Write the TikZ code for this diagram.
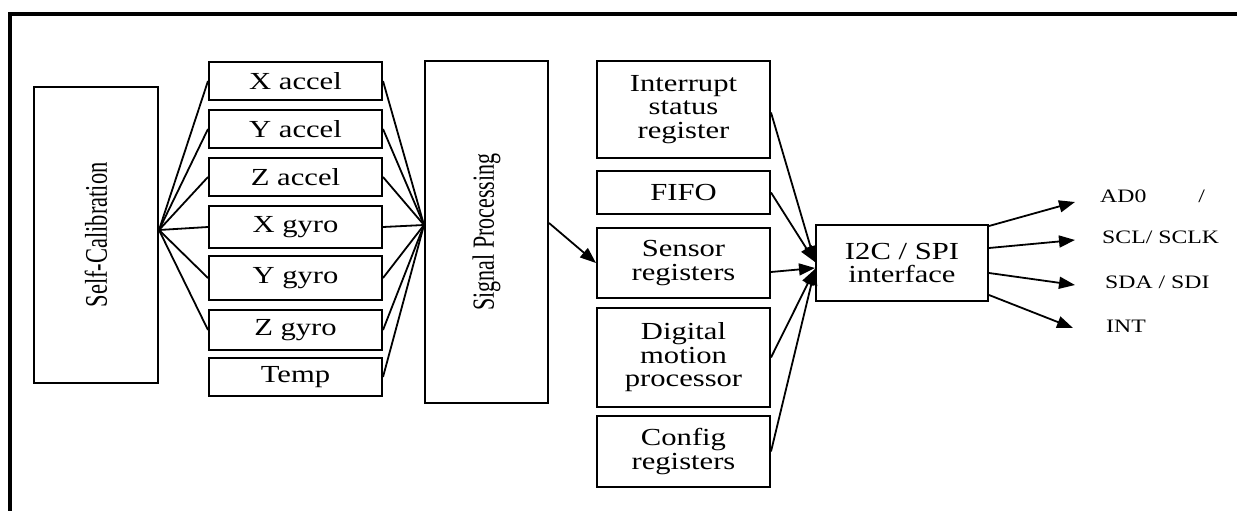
\documentclass[tikz,border=0pt]{standalone}
\usepackage{graphicx}
\usepackage{fontspec}
\setmainfont{Liberation Serif}[FakeStretch=1.25]
\newfontfamily\rotfont{Liberation Serif}
\usetikzlibrary{arrows.meta}
\begin{document}
\begin{tikzpicture}[x=1pt,y=-1pt,
  blk/.style={draw, line width=2pt, inner sep=0pt, align=center,
    font=\fontsize{24.5}{23.5}\selectfont},
  sens/.style={blk, minimum width=173pt},
  colbox/.style={blk, minimum width=173pt},
  lnk/.style={line width=1.8pt},
  arr/.style={line width=1.8pt, -{Triangle[length=16pt,width=12pt]}},
  lbl/.style={font=\fontsize{19}{19}\selectfont, inner sep=0pt, anchor=base west}]
\useasboundingbox (0,0) rectangle (1237,511);
% outer frame (only top and left edges visible)
\draw[line width=4pt] (10,530) -- (10,14) -- (1260,14);

% Self-Calibration
\node[blk, minimum width=124pt, minimum height=296pt] (sc) at (96,235)
  {\rotatebox{90}{\scalebox{1}[1.4]{\rotfont\fontsize{22.5}{22.5}\selectfont Self-Calibration}}};

% sensors
\node[sens, minimum height=38pt] (xa) at (295.5,81) {X accel};
\node[sens, minimum height=38pt] (ya) at (295.5,129) {Y accel};
\node[sens, minimum height=38pt] (za) at (295.5,177) {Z accel};
\node[sens, minimum height=42pt] (xg) at (295.5,227) {X gyro};
\node[sens, minimum height=44pt] (yg) at (295.5,278) {Y gyro};
\node[sens, minimum height=40pt] (zg) at (295.5,330) {Z gyro};
\node[sens, minimum height=38pt] (tp) at (295.5,377) {Temp};

% Signal Processing
\node[blk, minimum width=123pt, minimum height=342pt] (sp) at (486.5,232)
  {\rotatebox{90}{\scalebox{1}[1.4]{\rotfont\fontsize{22}{22}\selectfont Signal Processing}}};

% register column
\node[colbox, minimum height=97pt] (isr) at (683.5,109.5) {Interrupt\\status\\register};
\node[colbox, minimum height=43pt] (fifo) at (683.5,192.5) {FIFO};
\node[colbox, minimum height=70pt] (sr) at (683.5,263) {Sensor\\registers};
\node[colbox, minimum height=99pt] (dmp) at (683.5,357.5) {Digital\\motion\\processor};
\node[colbox, minimum height=71pt] (cfg) at (683.5,451.5) {Config\\registers};

% interface
\node[blk, minimum width=172pt, minimum height=76pt] (i2c) at (902,263) {I2C / SPI\\interface};

% fan from self-calibration
\foreach \n in {xa,ya,za,xg,yg,zg}
  \draw[lnk] ([yshift=5pt]sc.east) -- (\n.west);
% fan into signal processing
\foreach \n in {xa,ya,za,xg,yg,zg,tp}
  \draw[lnk] (\n.east) -- ([yshift=7pt]sp.west);

\draw[arr] ([yshift=9pt]sp.east) -- (sr.west);

\draw[arr] ([yshift=-3pt]isr.east) -- ([yshift=1pt]i2c.west);
\draw[arr] (fifo.east) -- ([yshift=1pt]i2c.west);
\draw[arr] ([yshift=-9pt]sr.east) -- ([yshift=-5pt]i2c.west);
\draw[arr] (dmp.east) -- ([yshift=-6pt]i2c.west);
\draw[arr] (cfg.east) -- ([yshift=-6pt]i2c.west);

% outputs
\coordinate (t1) at (1075,202);
\coordinate (t2) at (1075,240);
\coordinate (t3) at (1075,285);
\coordinate (t4) at (1073,328);
\draw[arr] ([yshift=37pt]i2c.east) -- (t1);
\draw[arr] ([yshift=15pt]i2c.east) -- (t2);
\draw[arr] ([yshift=-10pt]i2c.east) -- (t3);
\draw[arr] ([yshift=-32pt]i2c.east) -- (t4);

\node[lbl] (l1) at (1100,202) {AD0\hspace{52pt}/};
\node[lbl] (l2) at (1102,243) {SCL/ SCLK};
\node[lbl] (l3) at (1105,288) {SDA / SDI};
\node[lbl] (l4) at (1106,332) {INT};
\end{tikzpicture}
\end{document}
